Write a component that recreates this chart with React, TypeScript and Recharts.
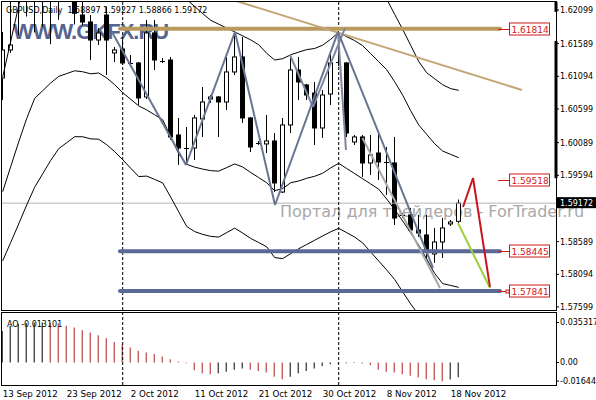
import React from "react";
import { ComposedChart, XAxis, YAxis, Bar, Line, Cell, ReferenceLine, ReferenceDot } from "recharts";

// GBPUSD daily bars, 13 Sep - 19 Nov 2012 (Sunday bars included, as in the terminal)
const dates = [
  "13 Sep 2012", "14 Sep 2012", "16 Sep 2012", "17 Sep 2012", "18 Sep 2012", "19 Sep 2012", "20 Sep 2012", "21 Sep 2012",
  "23 Sep 2012", "24 Sep 2012", "25 Sep 2012", "26 Sep 2012", "27 Sep 2012", "28 Sep 2012", "30 Sep 2012", "1 Oct 2012",
  "2 Oct 2012", "3 Oct 2012", "4 Oct 2012", "5 Oct 2012", "7 Oct 2012", "8 Oct 2012", "9 Oct 2012", "10 Oct 2012",
  "11 Oct 2012", "12 Oct 2012", "14 Oct 2012", "15 Oct 2012", "16 Oct 2012", "17 Oct 2012", "18 Oct 2012", "19 Oct 2012",
  "21 Oct 2012", "22 Oct 2012", "23 Oct 2012", "24 Oct 2012", "25 Oct 2012", "26 Oct 2012", "28 Oct 2012", "29 Oct 2012",
  "30 Oct 2012", "31 Oct 2012", "1 Nov 2012", "2 Nov 2012", "4 Nov 2012", "5 Nov 2012", "6 Nov 2012", "7 Nov 2012",
  "8 Nov 2012", "9 Nov 2012", "11 Nov 2012", "12 Nov 2012", "13 Nov 2012", "14 Nov 2012", "15 Nov 2012", "16 Nov 2012",
  "18 Nov 2012", "19 Nov 2012",
];

const opens = [
  1.61069, 1.61493, 1.6232, 1.6248, 1.6236, 1.6245, 1.623, 1.624, 1.625, 1.6245,
  1.62023, 1.61917, 1.61644, 1.62023, 1.61448, 1.61508, 1.61296, 1.61296, 1.60781, 1.61751,
  1.61326, 1.61341, 1.60205, 1.60008, 1.60008, 1.60448, 1.6075, 1.60781, 1.60705, 1.6116,
  1.61387, 1.60463, 1.6009, 1.60069, 1.60114, 1.59341, 1.60357, 1.6119, 1.60963, 1.60841,
  1.60311, 1.60826, 1.61296, 1.61296, 1.60099, 1.60175, 1.59781, 1.59932, 1.59796, 1.59781,
  1.58993, 1.58993, 1.58766, 1.5869, 1.58402, 1.58584, 1.58857, 1.58897,
];
const highs = [
  1.61766, 1.624, 1.6262, 1.6268, 1.6255, 1.627, 1.6258, 1.6262, 1.6256, 1.626,
  1.6235, 1.62023, 1.61826, 1.6215, 1.61538, 1.61644, 1.61417, 1.61311, 1.61947, 1.61947,
  1.61372, 1.61387, 1.60463, 1.60326, 1.60508, 1.60932, 1.60811, 1.60796, 1.61387, 1.61766,
  1.6169, 1.60478, 1.60114, 1.60508, 1.60235, 1.60463, 1.61417, 1.61387, 1.60978, 1.61008,
  1.60887, 1.61448, 1.61781, 1.61311, 1.60205, 1.60205, 1.60205, 1.60235, 1.60023, 1.60175,
  1.59023, 1.59099, 1.58993, 1.58993, 1.58796, 1.58948, 1.58917, 1.59227,
];
const lows = [
  1.60735, 1.61448, 1.6172, 1.62, 1.6176, 1.6185, 1.6158, 1.6195, 1.623, 1.6188,
  1.61872, 1.61341, 1.61569, 1.61114, 1.61311, 1.61266, 1.61235, 1.6066, 1.6075, 1.6119,
  1.61296, 1.60129, 1.59751, 1.59781, 1.59826, 1.60175, 1.6069, 1.60175, 1.60584, 1.61114,
  1.60387, 1.59947, 1.60054, 1.59932, 1.59341, 1.59326, 1.60235, 1.60735, 1.60735, 1.60054,
  1.6016, 1.6066, 1.6125, 1.60175, 1.60054, 1.59569, 1.59599, 1.59523, 1.59296, 1.58841,
  1.58947, 1.5872, 1.5866, 1.58341, 1.58266, 1.58341, 1.58826, 1.58866,
];
const closes = [
  1.61493, 1.61569, 1.6248, 1.6236, 1.6245, 1.623, 1.624, 1.6252, 1.6245, 1.6205,
  1.61917, 1.61644, 1.61751, 1.61644, 1.61493, 1.61296, 1.6128, 1.60766, 1.61751, 1.61341,
  1.6132, 1.60175, 1.60008, 1.60015, 1.60463, 1.60705, 1.60781, 1.60705, 1.6116, 1.61387,
  1.60463, 1.60023, 1.6008, 1.60114, 1.59478, 1.60357, 1.6119, 1.61008, 1.60811, 1.60311,
  1.60811, 1.61296, 1.6131, 1.60235, 1.60175, 1.59781, 1.59902, 1.59796, 1.5979, 1.58947,
  1.58978, 1.58766, 1.5872, 1.58433, 1.58584, 1.58796, 1.58887, 1.59172,
];

// envelope-style lines drawn over the price
const bandA = [
  null, null, null, null, null, null, null, null, null, null,
  null, null, null, null, null, null, null, null, null, null,
  null, null, null, null, null, null, null, null, null, null,
  null, null, null, null, null, null, null, null, null, null,
  null, null, null, null, null, null, null, 1.6237, 1.62266, 1.62032,
  1.61805, 1.61563, 1.6132, 1.61148, 1.61057, 1.60966, 1.60907, 1.60882,
];
const bandB = [
  1.61084, 1.61623, 1.62163, 1.62705, null, null, null, null, null, null,
  null, null, null, null, null, null, null, null, null, null,
  null, null, 1.62364, 1.62258, 1.62152, 1.62044, 1.61943, 1.61884, 1.61826, 1.61767,
  1.61707, 1.61646, 1.61572, 1.61443, 1.61341, 1.61361, 1.6142, 1.61461, 1.61498, 1.61516,
  1.61566, 1.61655, 1.6176, 1.61693, 1.61635, 1.61558, 1.61437, 1.61316, 1.61194, 1.61011,
  1.60808, 1.60572, 1.60357, 1.60214, 1.60072, 1.59961, 1.59911, 1.59861,
];
const bandC = [
  1.59347, 1.59725, 1.60099, 1.60455, 1.6076, 1.60876, 1.60993, 1.61093, 1.61135, 1.61178,
  1.61163, 1.61132, 1.61144, 1.61069, 1.60967, 1.60846, 1.60746, 1.60646, 1.60585, 1.60511,
  1.60435, 1.60181, 1.5992, 1.59761, 1.59717, 1.59688, 1.59664, 1.59657, 1.59711, 1.59766,
  1.5972, 1.59637, 1.5956, 1.59481, 1.59361, 1.59393, 1.59481, 1.59508, 1.59549, 1.59579,
  1.59626, 1.59707, 1.59775, 1.59697, 1.5962, 1.59541, 1.59463, 1.59384, 1.59235, 1.59072,
  1.58902, 1.5872, 1.58538, 1.58326, 1.58106, 1.57953, 1.57925, 1.57896,
];
const bandD = [
  1.58299, 1.58576, 1.58857, 1.59144, 1.59414, 1.59617, 1.59819, 1.59997, 1.60088, 1.60179,
  1.60178, 1.60146, 1.60141, 1.60058, 1.59952, 1.59831, 1.59702, 1.59575, 1.59582, 1.59532,
  1.59479, 1.59264, 1.59041, 1.58819, 1.58741, 1.58699, 1.58669, 1.58658, 1.58726, 1.58793,
  1.58719, 1.58638, 1.58575, 1.58511, 1.58347, 1.58332, 1.58407, 1.58481, 1.58546, 1.5861,
  1.58675, 1.58738, 1.5879, 1.58725, 1.58658, 1.58569, 1.58432, 1.58296, 1.5816, 1.58014,
  1.57829, 1.57644, 1.57482, 1.57319, 1.57187, 1.57079, 1.56972, 1.56864,
];

// Awesome Oscillator
const aoValues = [
  0.0279, 0.0324, 0.0341, 0.0349, 0.0352, 0.03532, 0.035, 0.0347, 0.0324, 0.0309,
  0.0285, 0.0265, 0.0241, 0.0215, 0.0182, 0.016, 0.0132, 0.0103, 0.0088, 0.0074,
  0.0053, 0.0029, 0.0009, -0.0006, -0.0068, -0.0094, -0.0103, -0.0094, -0.0082, -0.0065,
  -0.0053, -0.0065, -0.0074, -0.0088, -0.0126, -0.0147, -0.0126, -0.0094, -0.0074, -0.0053,
  -0.003, -0.0015, -0.001, -0.0006, -0.0004, -0.0008, -0.0024, -0.0065, -0.0082, -0.0088,
  -0.0103, -0.0118, -0.0132, -0.0147, -0.0156, -0.01644, -0.015, -0.0131,
];

const priceTicks = [1.62099, 1.61589, 1.61094, 1.60599, 1.60089, 1.59594, 1.58589, 1.58094, 1.57599];
const aoTicks = [0.035317, 0, -0.01644];
const aoTickLabels = ["0.035317", "0.00", "-0.01644"];
const dateTicks = [0, 8, 16, 24, 32, 40, 48, 56];
const separators = [15, 42];

const bidPrice = 1.59172;
const levels = [
  { price: 1.61814, label: "1.61814", kind: "tan" },
  { price: 1.58445, label: "1.58445", kind: "blue" },
  { price: 1.57841, label: "1.57841", kind: "blue" },
];
const targetLevel = { price: 1.59518, label: "1.59518" };
const levelStart = 14.66;
const levelEnd = 62.16;
const tagIndex = 63.29;

// hand-drawn analysis lines, as [bar index, price]
const zigzag = [[13.66, 1.61766], [22.91, 1.5975], [29.04, 1.61766], [34.04, 1.59144], [41.91, 1.61766], [53.79, 1.5819]];
const zigzag2 = [[35.91, 1.61417], [38.79, 1.60629], [42.79, 1.61826]];
const spike = [[41.91, 1.61766], [42.91, 1.59978]];
const channel = [[44.97, 1.6016], [54.66, 1.57887]];
const forecastRed = [[57.54, 1.59114], [58.79, 1.59553], [60.91, 1.57902]];
const forecastGreen = [[56.91, 1.58872], [60.91, 1.57887]];
const trendTan = [[28.79, 1.62251], [64.91, 1.60887]];

const X_MIN = -0.0875;
const X_MAX = 69.1625;
const P_MIN = 1.57553;
const P_MAX = 1.6222;
const AO_MIN = -0.01986;
const AO_MAX = 0.04369;

const FONT = "DejaVu Sans";

const bars = dates.map((date, i) => ({
  i,
  date,
  open: opens[i],
  high: highs[i],
  low: lows[i],
  close: closes[i],
  range: [lows[i], highs[i]],
  ao: aoValues[i],
  a: bandA[i],
  b: bandB[i],
  c: bandC[i],
  d: bandD[i],
}));

function Candle(props: any) {
  const { x, y, width, height, payload } = props;
  if (!payload) return null;
  const { open, close, high, low } = payload;
  const top = Math.min(y, y + height);
  const h = Math.abs(height);
  const span = high - low || 1;
  const py = (v: number) => top + ((high - v) / span) * h;
  const cx = Math.round(x + width / 2) + 0.5;
  const bTop = py(Math.max(open, close));
  const bBot = py(Math.min(open, close));
  const bull = close >= open;
  return (
    <g>
      <line x1={cx} x2={cx} y1={top} y2={top + h} stroke="#000" strokeWidth={1} />
      {bBot - bTop < 1.2 ? (
        <line x1={cx - 2.5} x2={cx + 2.5} y1={Math.round(bTop) + 0.5} y2={Math.round(bTop) + 0.5} stroke="#000" />
      ) : (
        <rect x={cx - 2} y={bTop} width={4} height={bBot - bTop} fill={bull ? "#fff" : "#000"} stroke="#000" strokeWidth={1} />
      )}
    </g>
  );
}

function PriceTick(p: any) {
  return (
    <text x={p.x} y={p.y + 3} fontSize={8} fontFamily={FONT} fill="#000">
      {Number(p.payload.value).toFixed(5)}
    </text>
  );
}

function AoTick(p: any) {
  const idx = aoTicks.indexOf(p.payload.value);
  return (
    <text x={p.x} y={p.y + 3} fontSize={8} fontFamily={FONT} fill="#000">
      {aoTickLabels[idx]}
    </text>
  );
}

function DateTick(p: any) {
  return (
    <text x={p.x} y={p.y + 11.5} fontSize={8.7} fontFamily={FONT} fill="#000" textAnchor="start">
      {dates[p.payload.value]}
    </text>
  );
}

function LevelTag(props: any) {
  const { cx, cy, text, marker } = props;
  const yy = Math.round(cy) + 0.5;
  return (
    <g>
      <line x1={cx - 11} x2={cx} y1={yy} y2={yy} stroke="#d01818" />
      {marker && <rect x={cx - 3} y={yy - 1.5} width={3} height={3} fill="#fff" stroke="#d01818" />}
      <rect x={Math.round(cx) + 0.5} y={yy - 6.5} width={40} height={12} fill="#fff" stroke="#d01818" />
      <text x={cx + 2.5} y={yy + 3.5} fontSize={9} fontFamily={FONT} fill="#d01818">{text}</text>
    </g>
  );
}

function BidTag(props: any) {
  const { cx, cy } = props;
  return (
    <g>
      <rect x={cx + 1} y={cy - 6} width={40} height={11} fill="#000" />
      <text x={cx + 4} y={cy + 3} fontSize={8} fontFamily={FONT} fill="#fff">{bidPrice.toFixed(5)}</text>
    </g>
  );
}

function segments(points: number[][]) {
  const out: { x: number; y: number }[][] = [];
  for (let k = 1; k < points.length; k++) {
    out.push([
      { x: points[k - 1][0], y: points[k - 1][1] },
      { x: points[k][0], y: points[k][1] },
    ]);
  }
  return out;
}

function drawPath(points: number[][], stroke: string, width: number, key: string) {
  return segments(points).map((seg, k) => (
    <ReferenceLine key={key + k} segment={seg} stroke={stroke} strokeWidth={width} ifOverflow="hidden" />
  ));
}

export default function App() {
  return (
    <div style={{ position: "absolute", left: 0, top: 0, width: 596, height: 400, background: "#fff", overflow: "hidden" }}>
      <svg style={{ position: "absolute", left: 0, top: 0 }} width={596} height={400}>
        <text x={13} y={38.5} fontFamily="Liberation Sans" fontWeight="bold" fontSize={22} letterSpacing={-1} fill="#55648f">
          WWW.GKFX.RU
        </text>
        <text x={280} y={217} fontFamily={FONT} fontSize={16} fill="#a8a8a8">
          Портал для трейдеров - ForTrader.ru
        </text>
      </svg>

      <div style={{ position: "absolute", left: 0, top: 0 }}>
        <ComposedChart width={596} height={312} data={bars} margin={{ top: 2, right: 0, left: 2, bottom: 2 }}>
          <XAxis type="number" dataKey="i" domain={[X_MIN, X_MAX]} allowDataOverflow hide />
          <YAxis
            orientation="right"
            width={40}
            domain={[P_MIN, P_MAX]}
            allowDataOverflow
            ticks={priceTicks}
            interval={0}
            tick={PriceTick}
            tickSize={3}
            tickMargin={1}
            tickLine={{ stroke: "#000" }}
            axisLine={false}
          />
          <ReferenceLine y={bidPrice} stroke="#b4b4b4" strokeWidth={1} />
          {separators.map((s) => (
            <ReferenceLine key={"sep" + s} x={s} stroke="#000" strokeDasharray="3 2" />
          ))}
          <Line dataKey="a" stroke="#000" strokeWidth={1} dot={false} isAnimationActive={false} />
          <Line dataKey="b" stroke="#000" strokeWidth={1} dot={false} isAnimationActive={false} />
          <Line dataKey="c" stroke="#000" strokeWidth={1} dot={false} isAnimationActive={false} />
          <Line dataKey="d" stroke="#000" strokeWidth={1} dot={false} isAnimationActive={false} />
          <Bar dataKey="range" barSize={5} shape={Candle} isAnimationActive={false} />

          {levels.map((l) => (
            <ReferenceLine
              key={"lv" + l.label}
              segment={[{ x: levelStart, y: l.price }, { x: levelEnd, y: l.price }]}
              stroke={l.kind === "tan" ? "#b9995e" : "#5a6996"}
              strokeWidth={4}
              strokeLinecap="round"
              ifOverflow="hidden"
            />
          ))}
          {drawPath(trendTan, "#c4a676", 2, "tan")}
          {drawPath(zigzag2, "#7e87a2", 2, "z2")}
          {drawPath(spike, "#7e87a2", 2, "sp")}
          {drawPath(channel, "#a8a8ac", 2, "ch")}
          {drawPath(zigzag, "#6a7593", 2, "z1")}
          {drawPath(forecastGreen, "#9ad23c", 2, "gr")}
          {drawPath(forecastRed, "#c8141e", 2, "rd")}

          {levels.map((l, k) => (
            <ReferenceDot
              key={"tag" + l.label}
              x={tagIndex}
              y={l.price}
              ifOverflow="visible"
              shape={(p: any) => <LevelTag {...p} text={l.label} marker={k === 2} />}
            />
          ))}
          <ReferenceDot
            x={tagIndex}
            y={targetLevel.price}
            ifOverflow="visible"
            shape={(p: any) => <LevelTag {...p} text={targetLevel.label} />}
          />
          <ReferenceLine segment={[{ x: X_MAX, y: 1.6222 }, { x: X_MAX, y: 1.6207 }]} stroke="#000" strokeWidth={3} ifOverflow="visible" />
          <ReferenceLine segment={[{ x: X_MAX, y: 1.6163 }, { x: X_MAX, y: 1.5955 }]} stroke="#000" strokeWidth={3} ifOverflow="visible" />
          <ReferenceDot x={X_MAX} y={bidPrice} ifOverflow="visible" shape={BidTag} />
        </ComposedChart>
      </div>

      <div style={{ position: "absolute", left: 0, top: 311 }}>
        <ComposedChart width={596} height={89} data={bars} margin={{ top: 2, right: 0, left: 2, bottom: 0 }}>
          <XAxis
            type="number"
            dataKey="i"
            domain={[X_MIN, X_MAX]}
            allowDataOverflow
            ticks={dateTicks}
            interval={0}
            tick={DateTick}
            tickLine={false}
            axisLine={false}
            tickSize={0}
            tickMargin={0}
            height={15}
          />
          <YAxis
            orientation="right"
            width={40}
            domain={[AO_MIN, AO_MAX]}
            allowDataOverflow
            ticks={aoTicks}
            interval={0}
            tick={AoTick}
            tickSize={3}
            tickMargin={1}
            tickLine={{ stroke: "#000" }}
            axisLine={false}
          />
          {separators.map((s) => (
            <ReferenceLine key={"asep" + s} x={s} stroke="#000" strokeDasharray="3 2" />
          ))}
          <Bar dataKey="ao" barSize={1} isAnimationActive={false}>
            {bars.map((b, i) => (
              <Cell key={i} fill={i > 0 && b.ao < aoValues[i - 1] ? "#b41e1e" : "#000"} />
            ))}
          </Bar>
        </ComposedChart>
      </div>

      <div style={{ position: "absolute", left: 1, top: 1, width: 554, height: 308, border: "1px solid #000" }} />
      <div style={{ position: "absolute", left: 1, top: 312, width: 554, height: 72, border: "1px solid #000" }} />

      <svg style={{ position: "absolute", left: 0, top: 0, pointerEvents: "none" }} width={596} height={400}>
        <text x={6} y={13} fontFamily={FONT} fontSize={8} fill="#000" style={{ whiteSpace: "pre" }}>
          {"GBPUSD,Daily  1.58897 1.59227 1.58866 1.59172"}
        </text>
        <text x={7} y={327} fontFamily={FONT} fontSize={8} fill="#000">
          AO -0.013101
        </text>
      </svg>
    </div>
  );
}
